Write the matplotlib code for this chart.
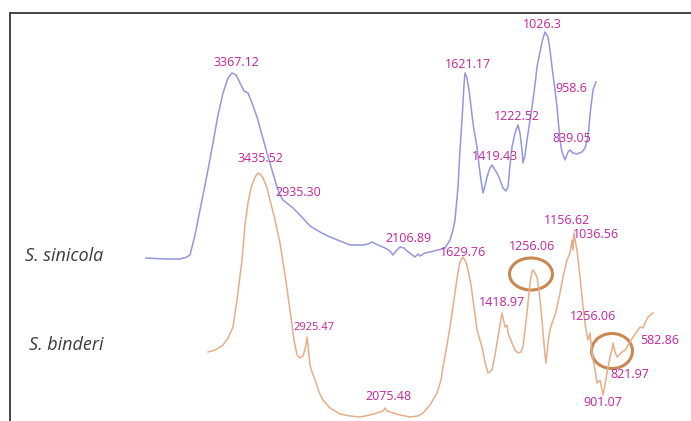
import matplotlib
matplotlib.use("Agg")
import matplotlib.pyplot as plt
from matplotlib.patches import Ellipse

# ---- spectra (relative position along the trace, relative intensity) ----
sinicola_x = [146, 165, 180, 187, 190, 195, 200, 207, 213, 218, 223, 228, 232, 236, 240, 244,
              248, 252, 257, 262, 267, 272, 277, 280, 283, 288, 293, 300, 310, 320, 330, 340,
              350, 363, 368, 372, 378, 385, 390, 393, 396, 400, 404, 407, 411, 415, 418, 420,
              425, 430, 438, 445, 450, 453, 455, 458, 460, 462, 464, 465, 467, 469, 472, 474,
              477, 479, 481, 483, 485, 487, 490, 492, 495, 497, 500, 503, 506, 508, 510, 512,
              515, 518, 520, 522, 523, 525, 527, 530, 532, 535, 537, 539, 542, 545, 548, 550,
              552, 555, 557, 560, 562, 565, 568, 570, 573, 577, 582, 585, 588, 590, 593, 596]
sinicola_y = [163, 162, 162, 164, 166, 186, 211, 246, 278, 306, 328, 343, 348, 346, 338, 330,
              328, 318, 304, 286, 268, 251, 234, 226, 221, 217, 213, 206, 195, 189, 184, 180,
              176, 176, 177, 179, 176, 173, 170, 166, 170, 174, 173, 170, 167, 164, 167, 165,
              168, 169, 171, 173, 181, 191, 201, 234, 271, 301, 336, 348, 343, 331, 306, 291,
              274, 256, 241, 228, 235, 244, 253, 256, 251, 248, 241, 233, 230, 234, 256, 274,
              288, 296, 288, 271, 258, 266, 281, 301, 314, 336, 354, 364, 379, 389, 384, 371,
              354, 331, 314, 281, 269, 261, 269, 271, 268, 267, 269, 273, 284, 306, 331, 339]

binderi_x = [208, 215, 223, 228, 233, 237, 242, 245, 248, 251, 255, 258, 261, 263, 267, 270,
             275, 280, 285, 290, 294, 297, 300, 303, 306, 307, 308, 310, 312, 315, 319, 323,
             330, 340, 350, 360, 370, 377, 383, 385, 387, 393, 400, 410, 418, 423, 430, 437,
             441, 443, 447, 450, 455, 458, 460, 463, 466, 468, 471, 473, 477, 480, 482, 485,
             488, 492, 495, 497, 500, 502, 504, 505, 507, 508, 512, 515, 518, 521, 523, 525,
             527, 530, 532, 533, 535, 537, 539, 541, 543, 545, 546, 548, 550, 552, 555, 557,
             559, 560, 563, 567, 570, 572, 573, 574, 576, 577, 580, 583, 586, 588, 590, 592,
             595, 597, 600, 603, 605, 607, 610, 612, 613, 615, 617, 620, 622, 625, 627, 630,
             633, 636, 638, 640, 643, 645, 648, 653]
binderi_y = [69, 71, 76, 83, 94, 121, 161, 196, 218, 233, 244, 248, 246, 243, 233, 221,
             201, 178, 146, 111, 81, 66, 63, 65, 76, 84, 76, 56, 49, 41, 29, 21,
             13, 7, 5, 4, 6, 8, 10, 13, 10, 8, 6, 4, 5, 8, 16, 28,
             41, 54, 76, 94, 128, 149, 159, 164, 159, 151, 136, 121, 91, 81, 74, 59,
             48, 51, 66, 78, 96, 108, 99, 94, 96, 88, 78, 71, 68, 69, 74, 91,
             108, 138, 149, 151, 148, 144, 131, 111, 88, 66, 58, 78, 91, 98, 106, 114,
             123, 128, 144, 161, 168, 181, 171, 188, 176, 171, 144, 114, 91, 81, 88, 68,
             51, 38, 41, 26, 36, 48, 64, 71, 78, 69, 64, 67, 69, 71, 74, 79,
             84, 88, 91, 94, 93, 98, 104, 108]

# ---- peak annotations: (text, x, y) ----
sinicola_peaks = [("3367.12", 236, 359), ("2935.30", 298, 229), ("2106.89", 408, 183),
                  ("1621.17", 468, 357), ("1419.43", 495, 265), ("1222.52", 517, 304),
                  ("1026.3", 542, 397), ("958.6", 571, 332), ("839.05", 572, 282)]
binderi_peaks = [("3435.52", 260, 263), ("2075.48", 388, 24), ("1629.76", 463, 168),
                 ("1418.97", 502, 118), ("1256.06", 532, 174), ("1156.62", 567, 201),
                 ("1036.56", 596, 186), ("1256.06", 593, 104), ("901.07", 603, 18),
                 ("821.97", 630, 47), ("582.86", 660, 81)]
small_peak = ("2925.47", 314, 94)

# highlighted regions: (center x, center y, width, height)
highlights = [(531, 147, 43, 32), (612, 70, 41, 35)]

species = [("S. sinicola", 25, 165), ("S. binderi", 29, 76)]

BLUE = "#9596e0"
ORANGE = "#e6ae88"
MAGENTA = "#c0259e"
RING = "#c98850"

fig = plt.figure(figsize=(6.91, 4.21), dpi=100)
ax = fig.add_axes([10 / 691, 0, 681 / 691, 408 / 421])
ax.set_xlim(10, 691)
ax.set_ylim(0, 408)
ax.set_xticks([])
ax.set_yticks([])
for side in ("right", "bottom"):
    ax.spines[side].set_visible(False)
for side in ("left", "top"):
    ax.spines[side].set_color("#444444")
    ax.spines[side].set_linewidth(1.4)

ax.plot(sinicola_x, sinicola_y, color=BLUE, lw=1.1, solid_joinstyle="round")
ax.plot(binderi_x, binderi_y, color=ORANGE, lw=1.1, solid_joinstyle="round")

for cx, cy, w, h in highlights:
    ax.add_patch(Ellipse((cx, cy), w, h, fill=False, edgecolor=RING, lw=2.2))

lab_font = dict(family=["Open Sans", "DejaVu Sans"], color=MAGENTA,
                ha="center", va="center")
for txt, x, y in sinicola_peaks + binderi_peaks:
    ax.text(x, y, txt, fontsize=9, **lab_font)
ax.text(small_peak[1], small_peak[2], small_peak[0], fontsize=8, **lab_font)

for name, x, y in species:
    ax.text(x, y, name, fontsize=13, style="italic", color="#3a3a3a",
            family=["Open Sans", "DejaVu Sans"], ha="left", va="center")

fig.savefig("out.png", dpi=100)
